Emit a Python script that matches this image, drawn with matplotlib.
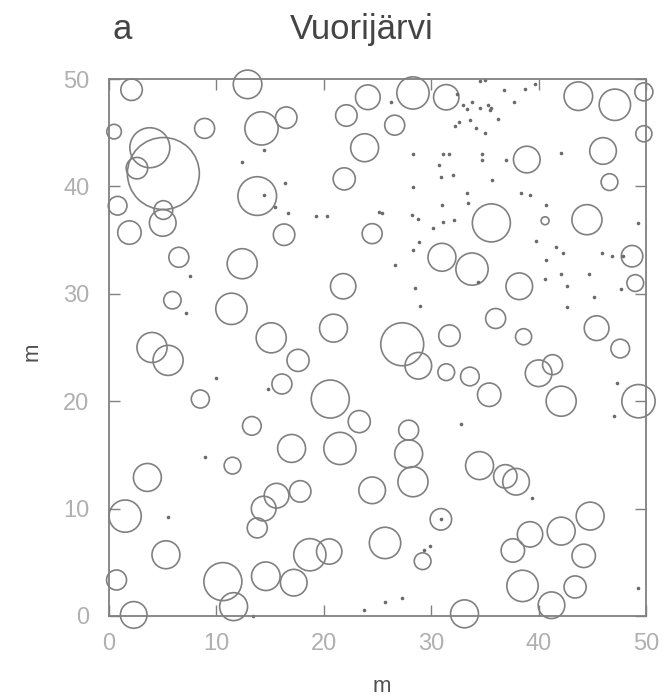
import matplotlib
matplotlib.use("Agg")
import matplotlib.pyplot as plt
from matplotlib.patches import Circle

plt.rcParams['font.family'] = ['Liberation Sans', 'DejaVu Sans']

# tree positions (m) and crown radius (m)
tree_x = [2.1, 12.9, 24.1, 22.1, 16.5, 14.2, 8.9, 0.47, 3.8, 5.06, 2.6, 23.8, 21.9,
          0.8, 5.06, 5.0, 13.8, 1.9, 16.3, 24.5, 6.5, 12.4, 21.8, 5.9, 11.4, 20.9,
          15.1, 4.0,
          28.3, 31.4, 26.6, 43.7, 47.1, 49.8, 49.8, 46.0, 38.9, 46.6, 44.5, 35.6,
          40.6, 31.0, 33.8, 48.7, 49.0, 38.2, 36.0, 31.7, 38.6, 45.4,
          5.5, 17.6, 16.1, 20.6, 8.5, 23.3, 13.3, 17.0, 21.5, 11.5, 3.57, 24.5,
          17.8, 15.6, 14.4, 13.8, 1.5, 5.3, 18.7, 20.5, 14.6, 17.2, 0.7, 10.6,
          11.6, 2.3,
          27.3, 28.8, 31.4, 33.6, 35.4, 40.0, 41.3, 42.1, 49.3, 47.6, 27.9, 27.9,
          28.3, 34.5, 36.9, 37.9, 30.9, 25.7, 29.2, 44.8, 42.1, 39.2, 37.6, 44.2,
          38.5, 43.4, 41.2, 33.1]
tree_y = [49.0, 49.5, 48.3, 46.6, 46.4, 45.4, 45.4, 45.1, 43.6, 41.2, 41.7, 43.6, 40.7,
          38.2, 37.8, 36.6, 39.1, 35.7, 35.5, 35.6, 33.4, 32.8, 30.7, 29.4, 28.6, 26.8,
          25.9, 25.0,
          48.7, 48.3, 45.7, 48.4, 47.6, 48.8, 44.9, 43.3, 42.5, 40.4, 36.9, 36.6,
          36.8, 33.4, 32.3, 33.5, 31.0, 30.7, 27.7, 26.1, 26.0, 26.8,
          23.8, 23.8, 21.6, 20.2, 20.2, 18.1, 17.7, 15.6, 15.6, 14.0, 12.9, 11.7,
          11.6, 11.2, 10.0, 8.2, 9.3, 5.7, 5.7, 6.0, 3.7, 3.1, 3.35, 3.2,
          0.87, 0.1,
          25.3, 23.3, 22.7, 22.3, 20.6, 22.6, 23.4, 20.0, 20.0, 24.9, 17.3, 15.1,
          12.5, 14.0, 13.0, 12.5, 9.0, 6.8, 5.1, 9.3, 7.9, 7.6, 6.1, 5.6,
          2.8, 2.7, 1.0, 0.2]
tree_r = [1.0, 1.33, 1.15, 1.0, 1.0, 1.55, 0.93, 0.68, 1.86, 3.35, 1.0, 1.3, 1.03,
          0.87, 0.87, 1.24, 1.8, 1.09, 1.0, 0.93, 0.93, 1.4, 1.18, 0.81, 1.46, 1.3,
          1.4, 1.4,
          1.5, 1.18, 0.93, 1.33, 1.46, 0.84, 0.75, 1.24, 1.24, 0.78, 1.4, 1.77,
          0.37, 1.3, 1.5, 1.0, 0.78, 1.24, 0.93, 1.0, 0.75, 1.15,
          1.4, 1.03, 0.93, 1.77, 0.84, 1.03, 0.87, 1.3, 1.5, 0.78, 1.3, 1.24,
          1.0, 1.15, 1.15, 0.93, 1.5, 1.3, 1.5, 1.18, 1.33, 1.24, 0.93, 1.77,
          1.3, 1.24,
          2.0, 1.24, 0.78, 0.87, 1.09, 1.24, 0.93, 1.4, 1.55, 0.87, 0.93, 1.3,
          1.4, 1.3, 1.09, 1.24, 1.0, 1.46, 0.78, 1.3, 1.3, 1.18, 1.09, 1.09,
          1.46, 1.03, 1.24, 1.3]

# small seedlings
seed_x = [34.5, 35.0, 36.8, 38.7, 39.7, 32.4, 37.7, 33.0, 33.3, 33.8, 34.5, 35.3,
          35.6, 35.5, 36.2, 32.6, 32.2, 33.6, 34.2, 35.0, 31.1, 31.7, 34.7, 34.7,
          37.0, 28.3, 30.7, 30.9, 32.0, 35.7, 28.3, 33.3, 38.4, 39.2, 33.4, 31.0,
          40.7, 28.2, 28.8, 32.1, 31.1, 30.2, 25.4, 28.9, 28.3, 26.6, 39.8, 41.6,
          42.3, 40.7, 45.9, 46.8, 47.9, 49.3, 42.1, 44.7, 40.6, 28.5, 34.4, 42.6,
          42.6, 45.2, 29.0, 47.7, 26.3, 42.1,
          14.4, 15.5, 12.4, 19.3, 20.3, 7.5, 16.4, 16.7, 14.4, 7.2, 25.1,
          10.0, 8.9, 5.5, 14.8, 13.4, 23.7,
          29.3, 29.9, 47.3, 47.0, 49.3, 27.3, 25.7, 39.4, 32.8, 30.9]
seed_y = [49.8, 49.9, 49.0, 49.1, 49.5, 48.6, 47.9, 47.6, 47.2, 47.9, 47.3, 47.6,
          47.3, 47.1, 46.3, 46.0, 45.6, 46.2, 45.4, 45.0, 43.0, 43.0, 43.0, 42.5,
          42.5, 43.0, 42.0, 40.9, 41.1, 40.6, 39.9, 39.4, 39.4, 39.2, 38.5, 38.3,
          38.3, 37.3, 37.0, 36.9, 36.7, 36.1, 37.5, 34.8, 34.1, 32.7, 34.9, 34.4,
          33.8, 33.1, 33.8, 33.5, 33.5, 36.6, 31.8, 31.8, 31.4, 30.5, 31.1, 30.7,
          28.8, 29.7, 28.9, 30.4, 47.9, 43.1,
          39.2, 38.1, 42.3, 37.2, 37.2, 31.7, 40.3, 37.5, 43.4, 28.2, 37.6,
          22.2, 14.8, 9.2, 21.1, 0.0, 0.56,
          6.1, 6.5, 21.7, 18.6, 2.6, 1.7, 1.3, 11.0, 17.9, 9.0]

ticks = [0, 10, 20, 30, 40, 50]

fig = plt.figure(figsize=(6.64, 6.97), dpi=100)
ax = fig.add_axes([0.1642, 0.1162, 0.8087, 0.7705])

for x, y, r in zip(tree_x, tree_y, tree_r):
    ax.add_patch(Circle((x, y), r, fill=False, edgecolor='#808080',
                        linewidth=1.2, clip_on=False))

ax.plot(seed_x, seed_y, 'o', color='#6a6a6a', markersize=2.6,
        markeredgewidth=0, clip_on=False)

ax.set_xlim(0, 50)
ax.set_ylim(0, 50)
ax.set_aspect('equal')
ax.set_xticks(ticks)
ax.set_yticks(ticks)
ax.tick_params(direction='in', length=8, width=1.0, color='#808080',
               labelcolor='#b0b0b0', labelsize=17, top=True, right=True)
ax.tick_params(axis='x', pad=12)
ax.tick_params(axis='y', pad=14)
for s in ax.spines.values():
    s.set_color('#808080')
    s.set_linewidth(1.3)

fig.text(382 / 664, 1 - 686 / 697, 'm', ha='center', va='center',
         fontsize=16, color='#505050')
fig.text(32 / 664, 1 - 352 / 697, 'm', ha='center', va='center',
         fontsize=16, color='#505050', rotation=90)
fig.text(113 / 664, 1 - 39 / 697, 'a', ha='left', va='baseline',
         fontsize=25, color='#444444')
fig.text(290 / 664, 1 - 39 / 697, 'Vuorijärvi', ha='left', va='baseline',
         fontsize=25, color='#444444')

fig.savefig('out.png', dpi=100)
